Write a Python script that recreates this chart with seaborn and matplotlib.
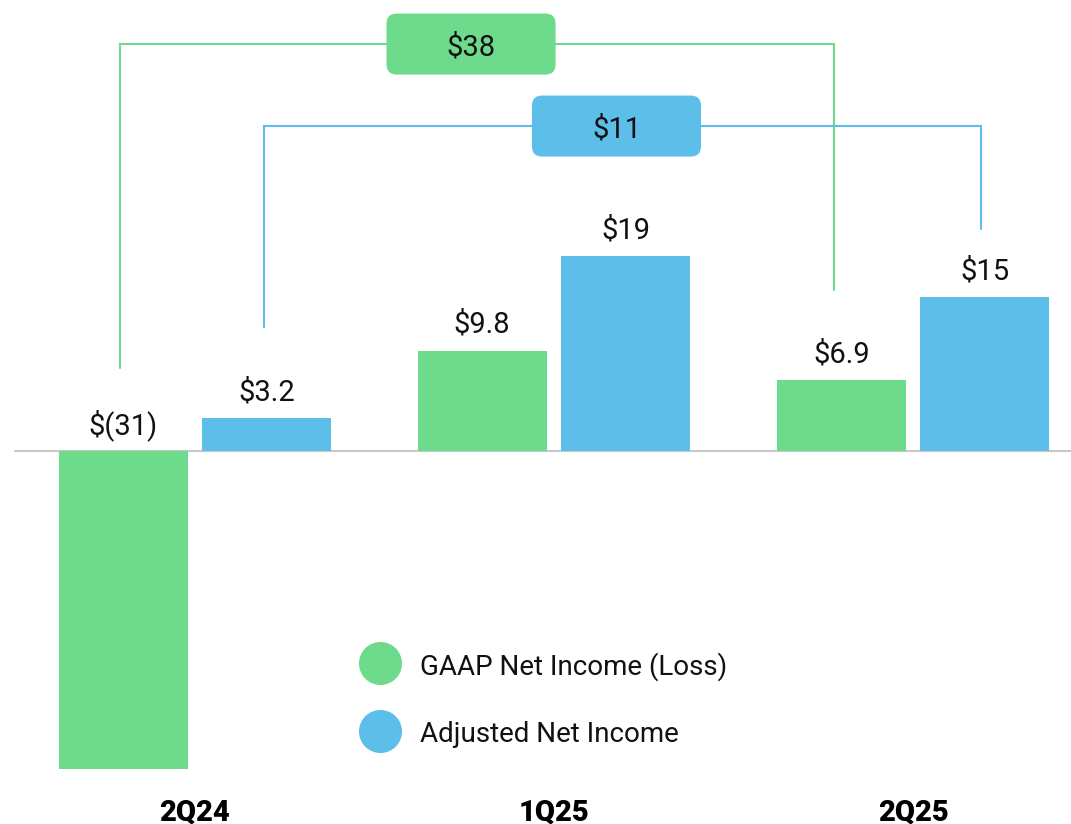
import matplotlib
matplotlib.use('Agg')
import matplotlib.pyplot as plt
import seaborn as sns
import pandas as pd
from matplotlib.patches import FancyBboxPatch

# values in $ millions
quarters = ['2Q24', '1Q25', '2Q25']
gaap = [-31, 9.8, 6.9]
adjusted = [3.2, 19, 15]
series_names = ['GAAP Net Income (Loss)', 'Adjusted Net Income']
change_labels = ['$38', '$11']

GREEN = '#6EDB8C'
BLUE = '#5DBFE9'


def money(v):
    s = f'{abs(v):.1f}' if abs(v) < 10 else f'{abs(v):.0f}'
    return f'$({s})' if v < 0 else f'${s}'


df = pd.DataFrame({
    'quarter': quarters * 2,
    'value': gaap + adjusted,
    'series': [series_names[0]] * len(quarters) + [series_names[1]] * len(quarters),
})

sns.set_theme(style='white')
plt.rcParams['font.family'] = ['Roboto', 'DejaVu Sans']

fig = plt.figure(figsize=(10.71, 8.24), dpi=100)
ax = fig.add_axes([0, 0, 1, 1])
sns.barplot(data=df, x='quarter', y='value', hue='series',
            palette=[GREEN, BLUE], width=0.8, gap=0.1, saturation=1,
            linewidth=0, errorbar=None, legend=False, ax=ax)

ax.set_xlim(-0.543, 2.44)
ax.set_ylim(-36.4, 44.0)
ax.axis('off')
ax.axhline(0, xmin=15 / 1071, xmax=1, color='#C8C8C8', lw=1.5, zorder=0)

bars = list(ax.patches)
n = len(quarters)
centers = [b.get_x() + b.get_width() / 2 for b in bars]
heights = [b.get_height() for b in bars]

for x, h in zip(centers, heights):
    ax.annotate(money(h), (x, max(h, 0)), xytext=(0, 29), textcoords='offset pixels',
                ha='center', va='center_baseline', fontsize=21, color='#111111')

# change brackets: series index, bracket level, gap above the bar at each end, x nudge
bracket_specs = [
    (0, 39.7, 8.1, 8.8, -0.02, GREEN),
    (1, 31.7, 8.9, 6.7, -0.01, BLUE),
]
for (s, level, gap_l, gap_r, nudge, color), label in zip(bracket_specs, change_labels):
    i0, i1 = s * n, s * n + n - 1
    x0, x1 = centers[i0] - 0.008, centers[i1] + nudge
    y0 = max(heights[i0], 0) + gap_l
    y1 = max(heights[i1], 0) + gap_r
    ax.plot([x0, x0, x1, x1], [y0, level, level, y1], color=color, lw=1.5,
            solid_joinstyle='miter', zorder=2)
    xm = (x0 + x1) / 2 - 0.017
    w, hgt = 0.471, 5.95
    box = FancyBboxPatch((xm - w / 2, level - hgt / 2), w, hgt,
                         boxstyle='round,pad=0,rounding_size=0.028',
                         mutation_aspect=35.0, fc=color, ec='none', zorder=3)
    ax.add_patch(box)
    ax.text(xm, level, label, ha='center', va='center_baseline', fontsize=21,
            color='#111111', zorder=4)

# legend
for yy, name, color in zip([1 - 663 / 824, 1 - 731 / 824], series_names, [GREEN, BLUE]):
    ax.scatter([380 / 1071], [yy], s=31 ** 2, color=color, transform=ax.transAxes,
               linewidths=0, zorder=5)
    ax.text(420 / 1071, yy, name, transform=ax.transAxes, ha='left',
            va='center_baseline', fontsize=20, color='#111111')

# category labels
for i, q in enumerate(quarters):
    ax.text(i, 1 - 812 / 824, q, transform=ax.get_xaxis_transform(), ha='center',
            va='center', fontsize=21, fontweight='black', color='#000000')

fig.savefig('out.png', dpi=100)
